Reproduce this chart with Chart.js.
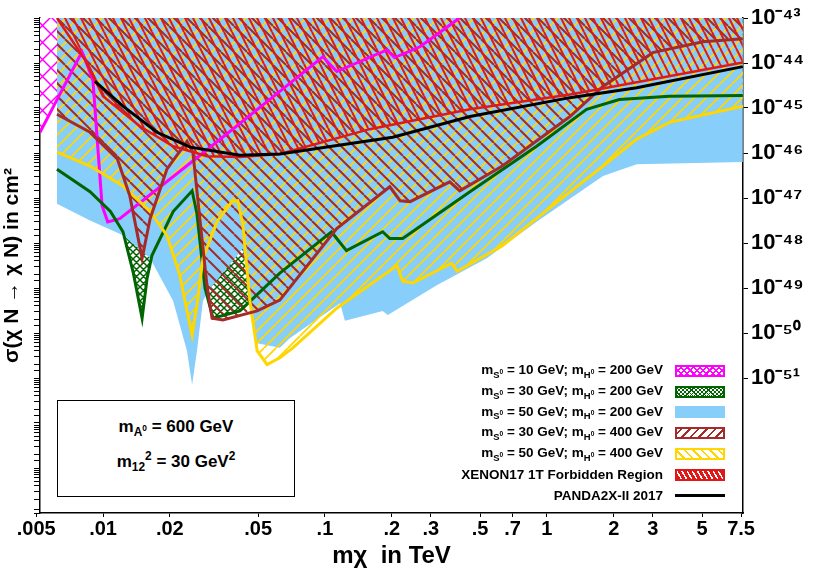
<!DOCTYPE html>
<html><head><meta charset="utf-8">
<script src="https://cdn.jsdelivr.net/npm/chart.js@4/dist/chart.umd.min.js"></script>
<style>
body{margin:0;background:#fff;font-family:"Liberation Sans",Arial,sans-serif;}
#wrap{position:relative;width:830px;height:581px;}
#leg{position:absolute;left:330px;top:361px;width:395px;font-weight:bold;font-size:13.5px;}
.row{position:absolute;right:0;height:20px;display:flex;align-items:center;white-space:nowrap;}
.sw{width:50px;height:12px;margin-left:12px;box-sizing:border-box;}
#box{position:absolute;left:57px;top:400px;width:238px;height:97px;border:1px solid #000;box-sizing:border-box;background:#fff;font-weight:bold;font-size:17px;text-align:center;}
sub,sup{font-size:70%;}
</style></head><body>
<div id="wrap"><canvas id="c" width="830" height="581"></canvas>
<div id="box"><div style="margin-top:16px">m<sub>A<sup>0</sup></sub> = 600 GeV</div><div style="margin-top:10px">m<sub>12</sub><sup>2</sup> = 30 GeV<sup>2</sup></div></div>
<div id="leg"></div></div>
<script>
// ---- data: mχ (TeV) and log10(σ / cm²)
const magX=[0.0052,0.00804,0.0090,0.0099,0.0105,0.0119,0.0274,0.0626,0.0979,0.113,0.190,0.206,0.268,0.394,0.42];
const magE=[-45.54,-43.75,-44.37,-47.17,-47.53,-47.46,-46.05,-44.63,-43.86,-44.19,-43.71,-43.88,-43.64,-43.04,-42.9];
const grnX=[0.0062,0.00874,0.0108,0.0123,0.0137,0.0150,0.0158,0.0166,0.0207,0.0252,0.0265,0.0288,0.0313,0.0414,0.0626,0.107,0.113,0.125,0.182,0.196,0.224,0.45,0.899,1.51,2.12,3.56,7.64];
const grnE=[-46.36,-46.86,-47.30,-47.75,-48.67,-49.67,-48.78,-48.28,-47.30,-46.84,-47.35,-49.00,-49.67,-49.51,-48.67,-47.75,-47.90,-48.17,-47.75,-47.90,-47.90,-46.86,-45.85,-45.03,-44.81,-44.74,-44.72];
const bluX=[0.0062,0.00874,0.0123,0.0163,0.0207,0.0239,0.0252,0.0265,0.0282,0.0297,0.0427,0.0459,0.0489,0.0626,0.0696,0.117,0.123,0.182,0.192,0.319,0.536,0.899,1.79,2.54,7.64];
const bluE=[-47.13,-47.50,-47.83,-48.34,-49.29,-50.40,-51.15,-50.40,-49.29,-49.07,-48.12,-49.23,-50.22,-50.33,-50.11,-49.34,-49.73,-49.51,-49.60,-48.94,-48.34,-47.53,-46.51,-46.25,-46.20];
const brnX=[0.0062,0.00874,0.0116,0.0132,0.0150,0.0163,0.0194,0.0239,0.0254,0.0273,0.0294,0.0310,0.0347,0.0495,0.0626,0.113,0.196,0.218,0.242,0.365,0.405,0.63,1.27,1.79,3.0,5.05,7.64];
const brnE=[-45.14,-45.54,-46.13,-46.95,-48.34,-47.46,-46.36,-45.74,-45.98,-47.46,-48.94,-49.67,-49.71,-49.51,-49.27,-47.68,-46.75,-47.06,-47.08,-46.64,-46.84,-46.29,-45.19,-44.52,-43.77,-43.53,-43.46];
const ylwX=[0.0062,0.00874,0.0123,0.0163,0.0194,0.0222,0.0239,0.0252,0.0265,0.0282,0.0326,0.0381,0.0405,0.0427,0.0459,0.0495,0.0548,0.0626,0.0717,0.113,0.211,0.224,0.249,0.372,0.394,0.63,1.06,1.79,2.54,3.56,7.64];
const ylwE=[-45.98,-46.29,-46.73,-47.30,-47.83,-48.72,-49.51,-50.04,-49.38,-48.34,-47.53,-47.08,-47.06,-47.61,-49.29,-50.40,-50.70,-50.55,-50.33,-49.45,-48.50,-48.85,-48.89,-48.45,-48.63,-48.06,-47.17,-46.29,-45.69,-45.32,-44.96];
const xenX=[0.0062,0.0083,0.01,0.0147,0.0207,0.0294,0.0414,0.0626,0.159,0.45,1.27,2.54,7.64];
const xenE=[-43.0,-43.93,-44.74,-45.41,-45.85,-46.07,-46.09,-46.02,-45.47,-45.03,-44.70,-44.43,-43.99];
const panX=[0.0092,0.0123,0.0175,0.0247,0.0414,0.0626,0.202,0.45,1.27,2.54,7.64];
const panE=[-44.41,-44.96,-45.54,-45.87,-46.05,-46.02,-45.65,-45.19,-44.77,-44.55,-44.08];
const xTicks=[0.005,0.01,0.02,0.05,0.1,0.2,0.3,0.5,0.7,1,2,3,5,7.5];
const xTickLabels=['.005','.01','.02','.05','.1','.2','.3','.5','.7','1','2','3','5','7.5'];
const yDecades=[-43,-44,-45,-46,-47,-48,-49,-50,-51];
const legendLabels=['m<sub>S<sup>0</sup></sub> = 10 GeV; m<sub>H<sup>0</sup></sub> = 200 GeV','m<sub>S<sup>0</sup></sub> = 30 GeV; m<sub>H<sup>0</sup></sub> = 200 GeV','m<sub>S<sup>0</sup></sub> = 50 GeV; m<sub>H<sup>0</sup></sub> = 200 GeV','m<sub>S<sup>0</sup></sub> = 30 GeV; m<sub>H<sup>0</sup></sub> = 400 GeV','m<sub>S<sup>0</sup></sub> = 50 GeV; m<sub>H<sup>0</sup></sub> = 400 GeV','XENON17 1T Forbidden Region','PANDA2X-II 2017'];

const pts=(xs,es)=>xs.map((x,i)=>({x:x,y:Math.pow(10,es[i])}));
function pat(w,h,bg,col,lw,fn){const c=document.createElement('canvas');c.width=w;c.height=h;const g=c.getContext('2d');if(bg){g.fillStyle=bg;g.fillRect(0,0,w,h);}g.strokeStyle=col;g.lineWidth=lw;g.beginPath();fn(g,w,h);g.stroke();return document.getElementById('c').getContext('2d').createPattern(c,'repeat');}
const slash=(g,w,h)=>{for(const k of [-w,0,w]){g.moveTo(k,h);g.lineTo(k+w,0);}};
const bslash=(g,w,h)=>{for(const k of [-w,0,w]){g.moveTo(k,0);g.lineTo(k+w,h);}};
const cross=(g,w,h)=>{slash(g,w,h);bslash(g,w,h);};
const P={mag:pat(17,17,'#fff','#ff00ff',1.5,cross),grn:pat(7,7,'#fff','#006400',1.5,cross),
ylw:pat(12,12,null,'#ffd700',1.8,slash),brn:pat(13,13,null,'#a52a2a',2,bslash),red:pat(8,16,null,'#e01818',2,bslash)};
const L=(label,xs,es,col,bw,fill,bg)=>({label,data:pts(xs,es),borderColor:col,borderWidth:bw,fill:fill?'end':false,backgroundColor:bg,pointRadius:0,tension:0});
const ds=[
 L('PANDA2X-II 2017',panX,panE,'#000',3,false),
 L('XENON17',xenX,xenE,'#e01818',2.5,true,P.red),
 L('mS30 mH400',brnX,brnE,'#a52a2a',3,true,P.brn),
 L('mS50 mH400',ylwX,ylwE,'#ffd700',3,true,P.ylw),
 L('mS30 mH200',grnX,grnE,'#006400',3,false),
 L('mS50 mH200',bluX,bluE,'rgba(0,0,0,0)',0,true,'#87cefa'),
 L('mS30 mH200 fill',grnX,grnE,'#006400',0,true,P.grn),
 L('mS10 mH200',magX,magE,'#ff00ff',3,true,P.mag)
];
const sup=n=>String(n).split('').map(ch=>({'-':'⁻','0':'⁰','1':'¹','2':'²','3':'³','4':'⁴','5':'⁵','6':'⁶','7':'⁷','8':'⁸','9':'⁹'})[ch]).join('');
const YMIN=Math.pow(10,-53.93);
new Chart(document.getElementById('c'),{type:'line',data:{datasets:ds},
options:{responsive:false,animation:false,layout:{padding:{top:18}},
plugins:{legend:{display:false},tooltip:{enabled:false},filler:{drawTime:'beforeDatasetsDraw'}},
scales:{
 x:{type:'logarithmic',min:0.0052,max:7.65,
   afterBuildTicks:s=>{s.ticks=xTicks.map(v=>({value:v}));},
   afterFit:s=>{s.height=68;},
   ticks:{autoSkip:false,maxRotation:0,color:'#000',padding:0,font:{size:20,weight:'bold'},callback:(v,i)=>xTickLabels[i]},
   grid:{drawOnChartArea:false,color:'#000',tickLength:4},border:{color:'#000',width:1.5},
   title:{display:true,text:'mχ  in TeV',color:'#000',font:{size:24,weight:'bold'},padding:{top:0,bottom:10}}},
 y:{type:'logarithmic',position:'left',min:YMIN,max:1e-43,
   afterFit:s=>{s.width=40;},
   ticks:{display:false},grid:{drawOnChartArea:false,color:'#000',tickLength:6},border:{color:'#000',width:1.5},
   title:{display:true,text:'σ(χ N → χ N) in cm²',color:'#000',font:{size:21,weight:'bold'},padding:0}},
 y2:{type:'logarithmic',position:'right',min:YMIN,max:1e-43,
   afterBuildTicks:s=>{s.ticks=yDecades.map(e=>({value:Math.pow(10,e)}));},
   afterFit:s=>{s.width=87;},
   ticks:{autoSkip:false,color:'#000',font:{size:22,weight:'bold'},callback:v=>'10'+sup(Math.round(Math.log10(v)))},
   grid:{drawOnChartArea:false,color:'#000',tickLength:5},border:{color:'#000',width:1.5}}
}}});
const sws=[
 'border:2px solid #ff00ff;background:repeating-linear-gradient(45deg,transparent 0 3px,#ff00ff 3px 4.5px),repeating-linear-gradient(-45deg,#fff 0 3px,#ff00ff 3px 4.5px)',
 'border:2px solid #006400;background:repeating-linear-gradient(45deg,transparent 0 2px,#006400 2px 3px),repeating-linear-gradient(-45deg,#fff 0 2px,#006400 2px 3px)',
 'background:#87cefa',
 'border:2px solid #a52a2a;background:repeating-linear-gradient(-45deg,#fff 0 4px,#a52a2a 4px 6px)',
 'border:2px solid #ffd700;background:repeating-linear-gradient(45deg,#fff 0 4px,#ffd700 4px 6px)',
 'border:2px solid #e01818;background:repeating-linear-gradient(60deg,#e01818 0 3px,#fff 3px 4.5px)',
 'height:3px;background:#000'];
const leg=document.getElementById('leg');
legendLabels.forEach((t,i)=>{const r=document.createElement('div');r.className='row';r.style.top=(i*20.7)+'px';r.innerHTML='<span>'+t+'</span><div class="sw" style="'+sws[i]+'"></div>';leg.appendChild(r);});
</script></body></html>
